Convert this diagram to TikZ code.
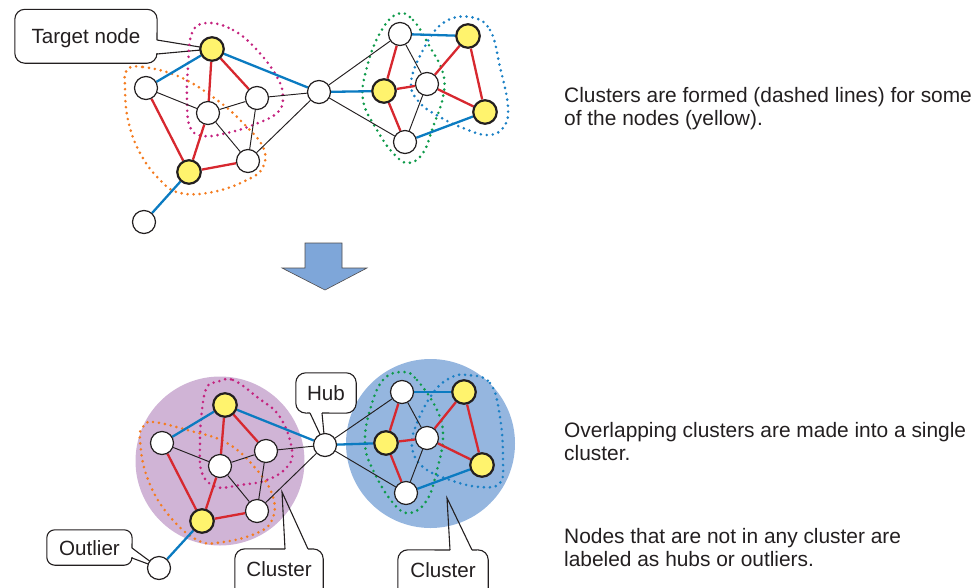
\documentclass[tikz,border=0pt]{standalone}
\usepackage{fontspec}
\setmainfont{Liberation Sans}
\usetikzlibrary{calc}
\definecolor{ered}{HTML}{D7282F}
\definecolor{eblue}{HTML}{0B7BC1}
\definecolor{ink}{HTML}{231F20}
\definecolor{ynode}{HTML}{FFF36D}
\definecolor{cmag}{HTML}{C4237F}
\definecolor{corange}{HTML}{F47C20}
\definecolor{cgreen}{HTML}{0E9A4A}
\definecolor{cblue}{HTML}{1B80C5}
\definecolor{purp}{HTML}{D0B4D6}
\definecolor{bluef}{HTML}{95B6DF}
\definecolor{arrowf}{HTML}{7EA6D9}
\pgfdeclarelayer{bg}
\pgfdeclarelayer{mid}
\pgfsetlayers{bg,mid,main}
\begin{document}
\begin{tikzpicture}[x=1pt,y=-1pt,
  wn/.style={circle,draw=ink,fill=white,line width=1.2pt,minimum size=23pt,inner sep=0pt},
  yn/.style={circle,draw=ink,fill=ynode,line width=2.2pt,minimum size=23.5pt,inner sep=0pt},
  blk/.style={draw=ink,line width=0.95pt},
  rd/.style={draw=ered,line width=2.3pt},
  bl/.style={draw=eblue,line width=2.3pt},
  dots/.style={line width=2.9pt,line cap=round,dash pattern=on 0pt off 6pt},
  boxfill/.style={fill=white,draw=none,rounded corners=10pt,inner sep=0pt,text=ink,
    font=\fontsize{20.6}{22}\selectfont,text height=15pt,text depth=0pt},
  ptr/.style={draw=ink,line width=1.1pt},
  txt/.style={anchor=base west,inner sep=0pt,font=\fontsize{20.9}{22}\selectfont,text=ink}
]
\useasboundingbox (0,0) rectangle (972,587);

% ---------- graph nodes (top) ----------
\node[yn] (tT) at (212,49) {};
\node[wn] (tA) at (146,88) {};
\node[wn] (tB) at (208,113) {};
\node[wn] (tC) at (257,98) {};
\node[wn] (tD) at (248,161) {};
\node[yn] (tY) at (189,172) {};
\node[wn] (tE) at (144,222) {};
\node[wn] (tH) at (319,92) {};
\node[wn] (tF) at (400,34) {};
\node[yn] (tY3) at (384,91) {};
\node[wn] (tG) at (427,84) {};
\node[wn] (tI) at (405,142) {};
\node[yn] (tY4) at (468,36) {};
\node[yn] (tY5) at (485,112) {};
% ---------- graph nodes (bottom) ----------
\node[yn] (bT) at (225,405) {};
\node[wn] (bA) at (162,443) {};
\node[wn] (bB) at (220,466) {};
\node[wn] (bC) at (266,451) {};
\node[wn] (bD) at (257,511) {};
\node[yn] (bY) at (202,521) {};
\node[wn] (bE) at (159,568) {};
\node[wn] (bH) at (325,445) {};
\node[wn] (bF) at (402,392) {};
\node[yn] (bY3) at (386,443) {};
\node[wn] (bG) at (427,438) {};
\node[wn] (bI) at (406,493) {};
\node[yn] (bY4) at (464,392) {};
\node[yn] (bY5) at (482,465) {};

% ---------- texts ----------
\node[txt] (l1) at (564,102) {Clusters are formed (dashed lines) for some};
\node[txt] (l2) at (564,125) {of the nodes (yellow).};
\node[txt] (l3) at (564,437) {Overlapping clusters are made into a single};
\node[txt] (l4) at (564,460) {cluster.};
\node[txt] (l5) at (564,543) {Nodes that are not in any cluster are};
\node[txt] (l6) at (564,566) {labeled as hubs or outliers.};

\begin{pgfonlayer}{bg}
  \fill[purp] (220,461) circle[radius=84.5];
  \fill[bluef] (430.5,443.5) circle[radius=84.5];
  \coordinate (lctip) at (282,492);
  \coordinate (rctip) at (447,498);
  \draw[fill=arrowf,draw=ink!80,line width=0.6pt,line join=miter]
    (305,243) -- (342,243) -- (342,268) -- (367,268) -- (325,290)
    -- (282,268) -- (305,268) -- cycle;
\end{pgfonlayer}

\begin{pgfonlayer}{mid}
  % ---- callouts ----
  \node[boxfill,minimum width=142pt,minimum height=53.5pt] (tgt) at (86,36.25) {Target node};
  \draw[ptr,rounded corners=10pt] (157,54) -- (tgt.south east) -- (tgt.south west)
     -- (tgt.north west) -- (tgt.north east) -- (157,40);
  \draw[ptr] (157,40) -- (tT.center) -- (157,54);

  \node[boxfill,minimum width=60pt,minimum height=40pt] (hub) at (326,393) {Hub};
  \draw[ptr,rounded corners=10pt] (322,413) -- (hub.south east) -- (hub.north east)
     -- (hub.north west) -- (hub.south west) -- (310,413);
  \draw[ptr] (310,413) -- (bH.center) -- (322,413);

  \node[boxfill,minimum width=85pt,minimum height=35pt,rounded corners=8pt] (out) at (89.5,547.5) {Outlier};
  \draw[ptr,rounded corners=8pt] (132,558) -- (out.south east) -- (out.south west)
     -- (out.north west) -- (out.north east) -- (132,548);
  \draw[ptr] (132,548) -- (bE.center) -- (132,558);

  \node[boxfill,minimum width=88pt,minimum height=50pt,text depth=11pt] (lcl) at (279,574) {Cluster};
  \draw[ptr,rounded corners=10pt] (308,549) -- (lcl.north east) -- (lcl.south east)
     -- (lcl.south west) -- (lcl.north west) -- (285,549);
  \draw[ptr] (285,549) -- (lctip) -- (308,549);

  \node[boxfill,minimum width=90pt,minimum height=50pt,text depth=11pt] (rcl) at (443,575) {Cluster};
  \draw[ptr,rounded corners=10pt] (472,550) -- (rcl.north east) -- (rcl.south east)
     -- (rcl.south west) -- (rcl.north west) -- (450,550);
  \draw[ptr] (450,550) -- (rctip) -- (472,550);

  % ---- dotted cluster contours (top) ----
  \draw[dots,cmag] plot[smooth cycle,tension=0.7] coordinates {
    (207,23) (233,30) (257,50) (277,77) (283,97) (277,113) (253,125) (227,133)
    (203,136) (190,127) (187,100) (188,67) (192,33)};
  \draw[dots,corange] plot[smooth cycle,tension=0.7] coordinates {
    (127,70) (143,67) (180,77) (217,100) (243,123) (263,147) (263,167) (247,180)
    (213,192) (180,193) (160,180) (140,153) (128,120) (125,87)};
  \draw[dots,cgreen] plot[smooth cycle,tension=0.7] coordinates {
    (397,14) (413,20) (430,47) (443,73) (443,97) (433,127) (423,153) (408,163)
    (393,153) (377,130) (363,100) (367,67) (380,33)};
  \draw[dots,cblue] plot[smooth cycle,tension=0.7] coordinates {
    (470,17) (490,30) (500,67) (508,107) (503,128) (487,135) (463,128) (440,117)
    (420,103) (411,83) (423,50) (443,23)};
  % ---- dotted cluster contours (bottom) ----
  \draw[dots,cmag] plot[smooth cycle,tension=0.7] coordinates {
    (217,382) (233,380) (257,397) (280,417) (292,450) (287,467) (267,480) (240,485)
    (217,487) (202,473) (200,443) (202,410) (207,387)};
  \draw[dots,corange] plot[smooth cycle,tension=0.7] coordinates {
    (143,427) (153,422) (187,430) (227,443) (257,470) (273,497) (272,520) (257,533)
    (223,542) (197,540) (167,513) (147,477) (140,440)};
  \draw[dots,cgreen] plot[smooth cycle,tension=0.7] coordinates {
    (403,372) (417,380) (437,410) (443,437) (437,470) (427,500) (410,513) (393,503)
    (373,470) (365,443) (370,410) (383,380)};
  \draw[dots,cblue] plot[smooth cycle,tension=0.7] coordinates {
    (467,375) (490,383) (500,417) (503,460) (500,483) (480,487) (450,480) (423,467)
    (412,447) (417,423) (433,393) (450,378)};

  % ---- edges ----
  \foreach \p in {t,b}{
    \foreach \u/\v in {A/B,B/C,B/D,C/D,C/H,D/H,H/F,H/I,F/G,G/I}
      \draw[blk] (\p\u) -- (\p\v);
    \foreach \u/\v in {T/B,T/C,A/Y,B/Y,D/Y,F/Y3,Y3/G,Y3/I,G/Y4,G/Y5,Y4/Y5}
      \draw[rd] (\p\u) -- (\p\v);
    \foreach \u/\v in {T/A,T/H,Y/E,H/Y3,F/Y4,I/Y5}
      \draw[bl] (\p\u) -- (\p\v);
  }
\end{pgfonlayer}
\end{tikzpicture}
\end{document}
